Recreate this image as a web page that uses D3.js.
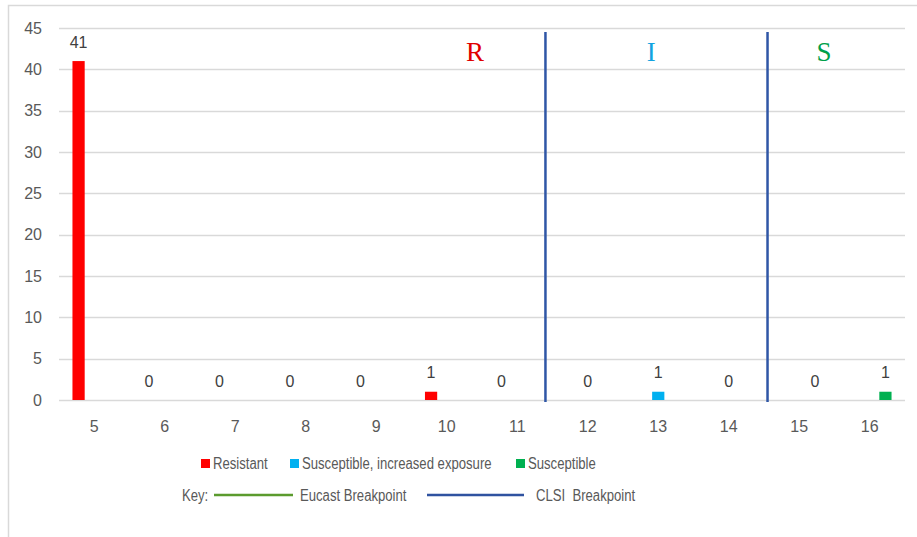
<!DOCTYPE html>
<html lang="en">
<head>
<meta charset="UTF-8">
<script src="https://cdnjs.cloudflare.com/ajax/libs/d3/7.8.5/d3.min.js"></script>
<title>Breakpoint chart</title>
<style>
  body { margin: 0; background: #fff; }
  text { font-family: "Liberation Sans", Arial, sans-serif; }
</style>
</head>
<body>
<script>
// categories (x axis) and series values
var categories = [5, 6, 7, 8, 9, 10, 11, 12, 13, 14, 15, 16];
var resistant   = [41, 0, 0, 0, 0, 1, 0, 0, 0, 0, 0, 0];
var increased   = [0, 0, 0, 0, 0, 0, 0, 0, 1, 0, 0, 0];
var susceptible = [0, 0, 0, 0, 0, 0, 0, 0, 0, 0, 0, 1];
// which series carries the data label in each category
var labelSeries = ["R", "R", "R", "R", "R", "R", "R", "I", "I", "I", "S", "S"];
var yTicks = [0, 5, 10, 15, 20, 25, 30, 35, 40, 45];
// CLSI breakpoint lines (in category units) and zone letters
var clsiBreaks = [11.4, 14.55];
var zoneNames = ["R", "I", "S"];
var zoneAt = [10.4, 12.9, 15.35];

var series = [
  { key: "R", name: "Resistant", values: resistant, color: "#ff0000" },
  { key: "I", name: "Susceptible, increased exposure", values: increased, color: "#00b0f0" },
  { key: "S", name: "Susceptible", values: susceptible, color: "#00b050" }
];
var zoneColors = { R: "#e00000", I: "#12a3e0", S: "#00a04a" };

var W = 917, H = 537;
var mLeft = 59, mRight = 905, mTop = 28, mBottom = 400;

var svg = d3.select("body").append("svg")
  .attr("width", W).attr("height", H);

// outer frame
svg.append("rect")
  .attr("x", 8.5).attr("y", 5.5)
  .attr("width", W + 10).attr("height", H + 10)
  .attr("fill", "none").attr("stroke", "#d9d9d9").attr("stroke-width", 1.5);

var y = d3.scaleLinear().domain([0, 45]).range([mBottom, mTop]);
var x0 = d3.scaleBand().domain(categories).range([mLeft, mRight])
  .paddingInner(0.333).paddingOuter(0.1665);
var x1 = d3.scaleBand().domain(series.map(function (s) { return s.key; }))
  .range([0, x0.bandwidth()]).paddingInner(0.22).paddingOuter(0.11);
// linear position in category units (centre of each band)
var xc = d3.scaleLinear().domain([5, 16])
  .range([x0(5) + x0.bandwidth() / 2, x0(16) + x0.bandwidth() / 2]);

// gridlines
svg.append("g").selectAll("line").data(yTicks).enter().append("line")
  .attr("x1", mLeft).attr("x2", mRight)
  .attr("y1", function (d) { return Math.round(y(d)) + 0.5; })
  .attr("y2", function (d) { return Math.round(y(d)) + 0.5; })
  .attr("stroke", "#d9d9d9").attr("stroke-width", 1.5);

// y labels
svg.append("g").selectAll("text").data(yTicks).enter().append("text")
  .attr("x", 42).attr("y", function (d) { return y(d) + 5.5; })
  .attr("text-anchor", "end").attr("font-size", 16).attr("fill", "#595959")
  .text(function (d) { return d; });

// x labels
svg.append("g").selectAll("text").data(categories).enter().append("text")
  .attr("x", function (d) { return x0(d) + x0.bandwidth() / 2; })
  .attr("y", 432)
  .attr("text-anchor", "middle").attr("font-size", 16).attr("fill", "#595959")
  .text(function (d) { return d; });

// bars
var groups = svg.append("g").selectAll("g").data(categories).enter().append("g")
  .attr("transform", function (d) { return "translate(" + x0(d) + ",0)"; });

groups.selectAll("rect")
  .data(function (d, i) {
    return series.map(function (s) { return { key: s.key, value: s.values[i], color: s.color }; });
  })
  .enter().append("rect")
  .attr("x", function (d) { return x1(d.key); })
  .attr("width", x1.bandwidth())
  .attr("y", function (d) { return y(d.value); })
  .attr("height", function (d) { return y(0) - y(d.value); })
  .attr("fill", function (d) { return d.color; });

groups.selectAll("text")
  .data(function (d, i) {
    return series.filter(function (s) { return s.key === labelSeries[i]; })
      .map(function (s) { return { key: s.key, value: s.values[i] }; });
  })
  .enter().append("text")
  .attr("x", function (d) { return x1(d.key) + x1.bandwidth() / 2; })
  .attr("y", function (d) { return y(d.value) - 13.5; })
  .attr("text-anchor", "middle").attr("font-size", 16).attr("fill", "#404040")
  .text(function (d) { return d.value; });

// CLSI breakpoint lines
svg.append("g").selectAll("line").data(clsiBreaks).enter().append("line")
  .attr("x1", function (d) { return xc(d); }).attr("x2", function (d) { return xc(d); })
  .attr("y1", 32).attr("y2", 402)
  .attr("stroke", "#2f56a6").attr("stroke-width", 2.5);

// zone letters
svg.append("g").selectAll("text").data(zoneNames).enter().append("text")
  .attr("x", function (d, i) { return xc(zoneAt[i]); })
  .attr("y", 61)
  .attr("text-anchor", "middle")
  .style("font-family", "'Liberation Serif', 'Times New Roman', serif")
  .attr("font-size", 27)
  .attr("fill", function (d) { return zoneColors[d]; })
  .text(function (d) { return d; });

// narrow-looking legend text (Calibri-like proportions)
function legendText(g, x, yy, str) {
  g.append("g").attr("transform", "translate(" + x + "," + yy + ") scale(0.82,1)")
    .append("text").attr("font-size", 16).attr("fill", "#595959")
    .style("white-space", "pre").text(str);
}

// legend row 1
var legX = [201, 290, 516];
var leg = svg.append("g");
series.forEach(function (s, i) {
  leg.append("rect").attr("x", legX[i]).attr("y", 459).attr("width", 9).attr("height", 9)
    .attr("fill", s.color);
  legendText(leg, legX[i] + 12, 469, s.name);
});

// key row
var key = svg.append("g");
legendText(key, 182, 501, "Key:");
key.append("line").attr("x1", 214).attr("x2", 293).attr("y1", 495).attr("y2", 495)
  .attr("stroke", "#5b9b2e").attr("stroke-width", 2.5);
legendText(key, 300, 501, "Eucast Breakpoint");
key.append("line").attr("x1", 427).attr("x2", 524).attr("y1", 495).attr("y2", 495)
  .attr("stroke", "#2f52a0").attr("stroke-width", 2.5);
legendText(key, 536, 501, "CLSI  Breakpoint");
</script>
</body>
</html>
